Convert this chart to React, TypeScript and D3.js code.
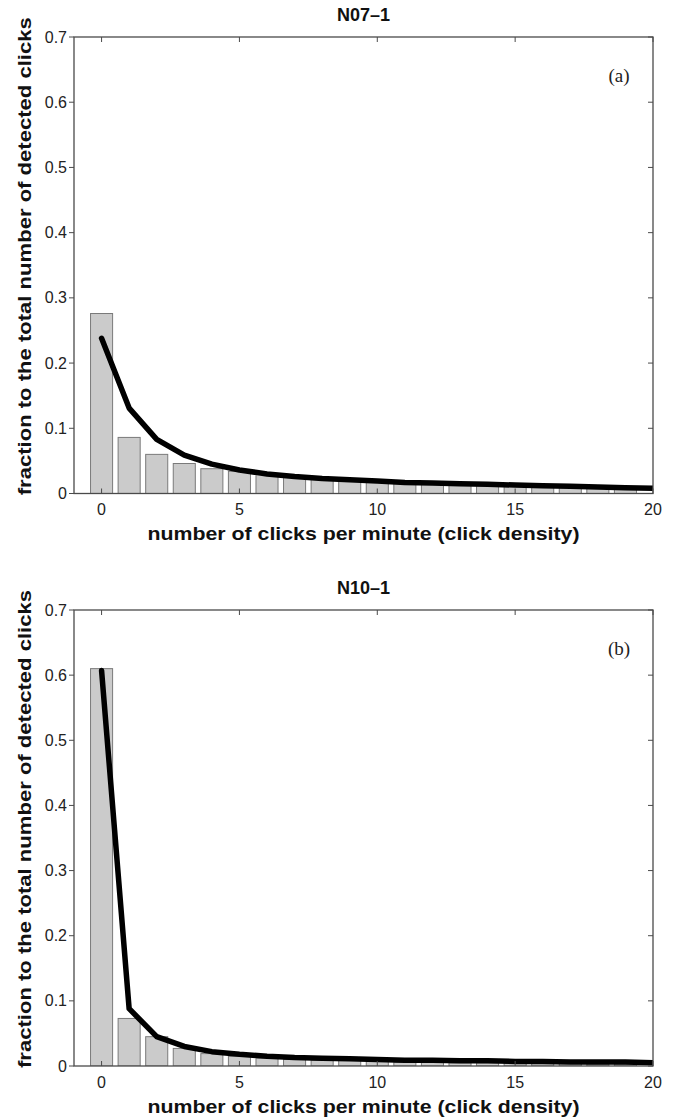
import React from "react";
import * as d3 from "d3";

// ---- data ----
const barX = [0, 1, 2, 3, 4, 5, 6, 7, 8, 9, 10, 11, 12, 13, 14, 15, 16, 17, 18, 19];
const lineX = [0, 1, 2, 3, 4, 5, 6, 7, 8, 9, 10, 11, 12, 13, 14, 15, 16, 17, 18, 19, 20];

const barsA = [0.276, 0.086, 0.060, 0.046, 0.038, 0.034, 0.029, 0.025, 0.022, 0.019, 0.018, 0.016, 0.015, 0.014, 0.013, 0.012, 0.011, 0.010, 0.009, 0.009];
const lineA = [0.238, 0.131, 0.083, 0.059, 0.045, 0.036, 0.030, 0.026, 0.023, 0.021, 0.019, 0.017, 0.016, 0.015, 0.014, 0.013, 0.012, 0.011, 0.010, 0.009, 0.008];

const barsB = [0.610, 0.073, 0.045, 0.027, 0.019, 0.015, 0.012, 0.010, 0.009, 0.011, 0.007, 0.006, 0.006, 0.005, 0.005, 0.004, 0.004, 0.004, 0.003, 0.003];
const lineB = [0.607, 0.088, 0.045, 0.030, 0.022, 0.018, 0.015, 0.013, 0.012, 0.011, 0.010, 0.009, 0.009, 0.008, 0.008, 0.007, 0.007, 0.006, 0.006, 0.006, 0.005];

const yTicks = [0, 0.1, 0.2, 0.3, 0.4, 0.5, 0.6, 0.7];
const yTickLabels = ["0", "0.1", "0.2", "0.3", "0.4", "0.5", "0.6", "0.7"];
const xTicks = [0, 5, 10, 15, 20];

const panels = [
  { id: "a", title: "N07\u20131", tag: "(a)", bars: barsA, line: lineA, top: 37, bottom: 493.5 },
  { id: "b", title: "N10\u20131", tag: "(b)", bars: barsB, line: lineB, top: 610, bottom: 1066 },
];

const LEFT = 74;
const RIGHT = 653;
const SANS = "'Liberation Sans', Arial, Helvetica, sans-serif";
const SERIF = "'Liberation Serif', 'Times New Roman', serif";
const AXIS = "#4a4a4a";

function Panel({ p }: { p: typeof panels[number] }) {
  const x = d3.scaleLinear().domain([-1, 20]).range([LEFT, RIGHT]);
  const y = d3.scaleLinear().domain([0, 0.7]).range([p.bottom, p.top]);
  const bw = (x(0.8) - x(0));
  const line = d3
    .line<number>()
    .x((_, i) => x(lineX[i]))
    .y((d) => y(d))
    .curve(d3.curveLinear);
  const clipId = "clip-" + p.id;
  const cx = (LEFT + RIGHT) / 2;
  const cy = (p.top + p.bottom) / 2;
  return (
    <g>
      <defs>
        <clipPath id={clipId}>
          <rect x={LEFT} y={p.top} width={RIGHT - LEFT} height={p.bottom - p.top} />
        </clipPath>
      </defs>
      <text x={cx} y={p.top - 16} textAnchor="middle" fontFamily={SANS} fontWeight="bold" fontSize={18} fill="#111">
        {p.title}
      </text>
      <g clipPath={`url(#${clipId})`}>
        {barX.map((v, i) => (
          <rect
            key={i}
            x={x(v) - bw / 2}
            y={y(p.bars[i])}
            width={bw}
            height={y(0) - y(p.bars[i])}
            fill="#cbcbcb"
            stroke="#7a7a7a"
            strokeWidth={1}
          />
        ))}
        <path d={line(p.line) || ""} fill="none" stroke="#000" strokeWidth={5.5} strokeLinejoin="round" strokeLinecap="round" />
      </g>
      <rect x={LEFT} y={p.top} width={RIGHT - LEFT} height={p.bottom - p.top} fill="none" stroke={AXIS} strokeWidth={1.3} />
      {yTicks.map((t, i) => (
        <g key={"y" + i}>
          <line x1={LEFT - 5} x2={LEFT} y1={y(t)} y2={y(t)} stroke={AXIS} strokeWidth={1} />
          <line x1={RIGHT - 5} x2={RIGHT} y1={y(t)} y2={y(t)} stroke={AXIS} strokeWidth={1} />
          <text x={LEFT - 7} y={y(t)} dy="0.35em" textAnchor="end" fontFamily={SANS} fontSize={16} fill="#222">
            {yTickLabels[i]}
          </text>
        </g>
      ))}
      {xTicks.map((t, i) => (
        <g key={"x" + i}>
          <line x1={x(t)} x2={x(t)} y1={p.bottom} y2={p.bottom - 5} stroke={AXIS} strokeWidth={1} />
          <line x1={x(t)} x2={x(t)} y1={p.top} y2={p.top + 5} stroke={AXIS} strokeWidth={1} />
          <text x={x(t)} y={p.bottom + 16} dy="0.35em" textAnchor="middle" fontFamily={SANS} fontSize={16} fill="#222">
            {t}
          </text>
        </g>
      ))}
      <text
        x={cx}
        y={p.bottom + 40}
        dy="0.35em"
        textAnchor="middle"
        fontFamily={SANS}
        fontWeight="bold"
        fontSize={19}
        fill="#111"
        textLength={432}
        lengthAdjust="spacingAndGlyphs"
      >
        number of clicks per minute (click density)
      </text>
      <text
        transform={`translate(24, ${cy - 9}) rotate(-90)`}
        dy="0.35em"
        textAnchor="middle"
        fontFamily={SANS}
        fontWeight="bold"
        fontSize={19}
        fill="#111"
        textLength={478}
        lengthAdjust="spacingAndGlyphs"
      >
        fraction to the total number of detected clicks
      </text>
      <text x={619} y={p.top + 38} dy="0.35em" textAnchor="middle" fontFamily={SERIF} fontSize={19} fill="#222">
        {p.tag}
      </text>
    </g>
  );
}

export default function App() {
  return (
    <svg
      width={678}
      height={1120}
      viewBox="0 0 678 1120"
      style={{ position: "absolute", left: 0, top: 0, background: "#fff" }}
    >
      <rect x={0} y={0} width={678} height={1120} fill="#fff" />
      {panels.map((p) => (
        <Panel key={p.id} p={p} />
      ))}
    </svg>
  );
}
